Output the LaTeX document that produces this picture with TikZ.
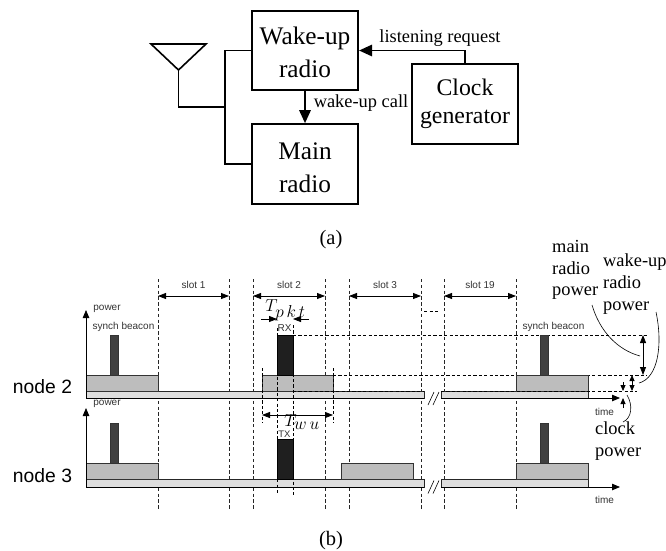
\documentclass[tikz,border=0pt]{standalone}
\usepackage{fontspec}
\setmainfont{Liberation Serif}
\setsansfont{Liberation Sans}
\usetikzlibrary{arrows.meta,calc}
\definecolor{blockgray}{gray}{0.74}
\definecolor{bargray}{gray}{0.87}
\definecolor{spikegray}{gray}{0.25}
\definecolor{pktgray}{gray}{0.12}
\newcommand{\fsz}[1]{\fontsize{#1}{#1}\selectfont}
\newcommand{\lift}[1]{\rule{0pt}{#1pt}}
\tikzset{
  x=1pt,y=-1pt,
  bigbox/.style={draw,line width=1.7pt,inner sep=0pt,align=center,font=\fsz{25.3}\linespread{1.3}\selectfont},
  wire/.style={line width=1.6pt},
  wirearrow/.style={wire,-{Triangle[length=13pt,width=11.5pt]}},
  serif/.style={inner sep=0pt,font=\fsz{18.4}},
  stack/.style={inner sep=0pt,align=left,anchor=north west,font=\fsz{18.4}\linespread{1.18}\selectfont},
  small/.style={inner sep=0pt,font=\sffamily\fsz{10},text=black!80},
  nodelabel/.style={inner sep=0pt,font=\sffamily\fsz{19.3}},
  block/.style={draw=black!80,line width=.8pt,fill=blockgray},
  bar/.style={draw=black!85,line width=.8pt,fill=bargray},
  spike/.style={draw=black!80,line width=.6pt,fill=spikegray},
  pkt/.style={draw=black,line width=.6pt,fill=pktgray},
  slotline/.style={black!85,line width=.8pt,dash pattern=on 3.4pt off 2.4pt},
  guide/.style={black,line width=.7pt,dash pattern=on 3.2pt off 2.2pt},
  axis/.style={line width=.8pt,-{Triangle[length=8pt,width=6.5pt]}},
  axisline/.style={line width=.8pt},
  span/.style={line width=.8pt,{Triangle[length=8pt,width=6pt]}-{Triangle[length=8pt,width=6pt]}},
  single/.style={line width=.8pt,-{Triangle[length=8pt,width=6pt]}},
  tiny arrow/.style={line width=.8pt,{Triangle[length=6pt,width=5pt]}-{Triangle[length=6pt,width=5pt]}},
  tiny single/.style={line width=.8pt,-{Triangle[length=6pt,width=5pt]}},
  lead/.style={line width=.6pt},
  breakmark/.style={line width=.6pt}
}
\begin{document}
\begin{tikzpicture}
\useasboundingbox (0,0) rectangle (666,550);
% ---------- (a)
\node[bigbox,minimum width=106.5pt,minimum height=79pt] (wake) at (305,50.5) {\lift{21}Wake-up\\radio};
\node[bigbox,minimum width=106.5pt,minimum height=80pt] (main) at (305,164) {\lift{24}Main\\radio};
\node[bigbox,minimum width=106.5pt,minimum height=80pt,font=\fsz{23.8}\linespread{1.2}\selectfont] (clock) at (465,104) {Clock\\generator};
\coordinate (antL) at (151,44);
\coordinate (antR) at (206,44);
\coordinate (antB) at (178.5,70);
\draw[wire,line join=miter] (antL) -- (antR) -- (antB) -- cycle;
\coordinate (junc) at (225,107);
\draw[wire] (antB) -- (antB|-junc) -- (junc);
\draw[wire] (wake.west) -- (junc|-wake.west) -- (junc|-main.west) -- (main.west);
\draw[wirearrow] (wake.south) -- (main.north);
\draw[wirearrow] (clock.north) -- (clock.north|-wake.east) -- (wake.east);
\node[serif] (lreq) at (440,38.5) {listening request};
\node[serif] (wcall) at (361,103.5) {wake-up call};
\node[serif,font=\fsz{20.5}] (capa) at (331,240) {(a)};
% ---------- slot boundaries
\foreach \n/\x in {a/158,b/229,c/253,d/325,e/349,f/421,g/444,h/516}{
  \coordinate (st\n) at (\x,279);
  \coordinate (sb\n) at (\x,510);
  \draw[slotline] (st\n) -- (sb\n);
}
\foreach \p/\q/\t in {a/b/slot 1,c/d/slot 2,e/f/slot 3,g/h/slot 19}{
  \draw[span] ($(st\p)+(0,17)$) -- ($(st\q)+(0,17)$);
  \node[small] (lab\p) at ($(st\p)!.5!(st\q)+(0,6)$) {\t};
}
\coordinate (dotsL) at (424,311.5);
\coordinate (dotsR) at (438,311.5);
\draw[line width=1.1pt,dash pattern=on 3pt off 2.5pt] (dotsL) -- (dotsR);
% ---------- node 2
\node[nodelabel] (n2) at (42.5,387) {node 2};
\draw[guide] (293,335) -- (647,335);
\draw[guide] (333,375) -- (647,375);
\draw[bar] (424,391) -- (86,391) -- (86,398) -- (424,398) -- cycle;
\draw[bar] (441,391) rectangle (588,398);
\draw[block] (86,375) rectangle (158,391);
\draw[block] (262,375) rectangle (333,391);
\draw[block] (516,375) rectangle (588,391);
\draw[spike] (110,335) rectangle (118,375);
\draw[spike] (540,335) rectangle (548,375);
\draw[pkt] (277,335) rectangle (293,375);
\draw[guide] (293,391) -- (424,391);
\draw[guide] (293,398) -- (424,398);
\draw[guide] (441,391) -- (637,391);
\coordinate (o2) at (86,398);
\coordinate (o2a) at (424,398);
\coordinate (o2b) at (441,398);
\draw[axis] (o2) -- (86,310);
\draw[axisline] (o2) -- (o2a);
\draw[axis] (o2b) -- (620,398);
\node[small] (p2) at (107,309) {power};
\node[small] (sb2l) at (123.5,327) {synch beacon};
\node[small] (sb2r) at (553.5,327) {synch beacon};
\node[small] (rx) at (284.5,328) {RX};
\node[small] (t2) at (604.5,412) {time};
% ---------- node 3
\node[nodelabel] (n3) at (42.5,476) {node 3};
\draw[bar] (424,479) -- (86,479) -- (86,487) -- (424,487) -- cycle;
\draw[bar] (441,479) rectangle (588,487);
\draw[block] (86,463) rectangle (158,479);
\draw[block] (341,463) rectangle (413,479);
\draw[block] (516,463) rectangle (588,479);
\draw[spike] (110,423) rectangle (118,463);
\draw[spike] (540,423) rectangle (548,463);
\draw[pkt] (277,439) rectangle (293,479);
\coordinate (o3) at (86,487);
\coordinate (o3a) at (424,487);
\coordinate (o3b) at (441,487);
\draw[axis] (o3) -- (86,408);
\draw[axisline] (o3) -- (o3a);
\draw[axis] (o3b) -- (620,487);
\node[small] (p3) at (107,404) {power};
\node[small,font=\sffamily\fsz{9.5}] (tx) at (284.5,434.5) {TX};
\node[small] (t3) at (604.5,500) {time};
% ---------- timing guides
\foreach \n/\x/\a/\b in {i/277/328/493,j/293/325/495,k/262/368/423,l/333/368/423}{
  \coordinate (gt\n) at (\x,\a);
  \coordinate (gb\n) at (\x,\b);
  \draw[guide] (gt\n) -- (gb\n);
}
\coordinate (pktL) at (261,319);
\coordinate (pktA) at (277,319);
\coordinate (pktB) at (293,319);
\coordinate (pktR) at (309,319);
\draw[single] (pktL) -- (pktA);
\draw[single] (pktR) -- (pktB);
\node[inner sep=0pt,font=\fsz{16.5}] (tpkt) at (285.5,310) {$T_{\textstyle p\,k\,t}$};
\coordinate (twuL) at (262,415);
\coordinate (twuR) at (333,415);
\draw[span] (twuL) -- (twuR);
\node[inner sep=0pt,font=\fsz{16.5}] (twu) at (302,422) {$T_{\textstyle w\,u}$};
% ---------- breaks
\foreach \n/\y in {a/398.5,b/487}{
  \draw[breakmark] (428,\y+6.5) -- (434,\y-6.5);
  \draw[breakmark] (433,\y+6.5) -- (439,\y-6.5);
}
% ---------- power levels
\coordinate (m1) at (643,335);
\coordinate (m2) at (643,375);
\draw[span] (m1) -- (m2);
\coordinate (w1) at (632,375);
\coordinate (w2) at (632,391);
\draw[tiny arrow] (w1) -- (w2);
\coordinate (ca) at (623,382);
\coordinate (cb) at (623,391);
\coordinate (cc) at (623,398);
\coordinate (cd) at (623,408);
\draw[tiny single] (ca) -- (cb);
\draw[tiny single] (cd) -- (cc);
\node[stack] (mlab) at (552,240) {main\\radio\\power};
\node[stack] (wlab) at (603,254) {wake-up\\radio\\power};
\node[stack] (clab) at (595,422) {clock\\power};
\coordinate (ml1) at (592,305);
\coordinate (ml2) at (640,356);
\draw[lead] (ml1) .. controls (600,332) and (618,350) .. (ml2);
\coordinate (wl1) at (656,312);
\coordinate (wl2) at (639,383);
\draw[lead] (wl1) .. controls (663,345) and (658,378) .. (wl2);
\coordinate (cl1) at (627,395);
\coordinate (cl2) at (623,422);
\draw[lead] (cl1) .. controls (633,405) and (632,418) .. (cl2);
\node[serif,font=\fsz{20.5}] (capb) at (331,541) {(b)};
\end{tikzpicture}
\end{document}
